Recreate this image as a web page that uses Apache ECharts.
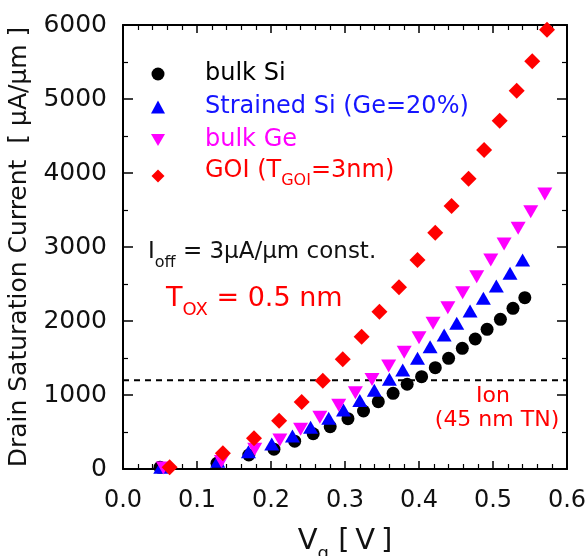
<!DOCTYPE html>
<html><head><meta charset="utf-8">
<script src="https://cdn.jsdelivr.net/npm/echarts@6/dist/echarts.min.js"></script>
<style>html,body{margin:0;padding:0;background:#fff}#c{width:588px;height:556px}</style>
</head><body><div id="c"></div>
<script>
// Gate voltage (V) and drain saturation current (uA/um)
const bulkSiVg = [0.050,0.127,0.170,0.204,0.232,0.257,0.280,0.304,0.325,0.345,0.365,0.384,0.4035,0.422,0.440,0.4585,0.476,0.492,0.510,0.527,0.543];
const bulkSiId = [23,77,189,268,376,476,572,680,784,910,1023,1145,1248,1369,1495,1631,1757,1888,2023,2171,2315];
const strainedVg = [0.051,0.128,0.1695,0.201,0.229,0.2535,0.278,0.298,0.320,0.3396,0.360,0.378,0.398,0.415,0.434,0.451,0.469,0.487,0.5045,0.523,0.540];
const strainedId = [23,105,234,338,446,563,685,797,925,1063,1212,1338,1495,1653,1811,1969,2135,2307,2473,2645,2824];
const bulkGeVg = [0.0545,0.133,0.178,0.212,0.240,0.266,0.2915,0.314,0.3365,0.359,0.380,0.400,0.419,0.439,0.459,0.478,0.497,0.515,0.534,0.551,0.570];
const bulkGeId = [15,100,266,392,536,698,862,1031,1208,1392,1577,1774,1969,2180,2383,2599,2824,3041,3252,3477,3716];
const goiVg = [0.063,0.135,0.177,0.211,0.2415,0.270,0.297,0.3225,0.3465,0.373,0.398,0.422,0.444,0.467,0.488,0.509,0.532,0.553,0.573];
const goiId = [23,212,415,653,905,1194,1482,1788,2126,2455,2824,3193,3554,3921,4311,4707,5112,5509,5937];
const ionLevel = 1200;
const seriesNames = ['bulk Si','Strained Si (Ge=20%)','bulk Ge','GOI (T_GOI=3nm)'];
const xRange = [0, 0.6];
const yRange = [0, 6000];

const FONT = 'DejaVu Sans';
const pair = (xs, ys) => xs.map((v, i) => [v, ys[i]]);

const chart = echarts.init(document.getElementById('c'), null, {renderer: 'canvas'});

const axisLineStyle = {show: true, onZero: false, lineStyle: {color: '#000', width: 2}};
const xTick = {show: true, inside: true, length: 8, lineStyle: {color: '#000', width: 1.5}};
const xMinor = {show: true, splitNumber: 5, length: 5, lineStyle: {color: '#000', width: 1.2}};
const yTick = {show: true, inside: true, length: 10, lineStyle: {color: '#000', width: 1.5}};
const yMinor = {show: true, splitNumber: 2, length: 5, lineStyle: {color: '#000', width: 1.2}};

const option = {
  backgroundColor: '#fff',
  animation: false,
  grid: {left: 123, right: 21, top: 25, bottom: 87, containLabel: false, outerBoundsMode: 'none'},
  xAxis: [
    {
      type: 'value', min: xRange[0], max: xRange[1], interval: 0.1, position: 'bottom',
      axisLine: axisLineStyle, axisTick: xTick, minorTick: xMinor,
      splitLine: {show: false}, minorSplitLine: {show: false},
      axisLabel: {margin: 20, fontFamily: FONT, fontSize: 24, color: '#111', formatter: v => v.toFixed(1)},
      name: '{v|V}{s|g}{v| [\u2009V\u2009]}', nameLocation: 'middle', nameGap: 64,
      nameTextStyle: {fontFamily: FONT, color: '#111', rich: {
        v: {fontFamily: FONT, fontSize: 29, color: '#111', verticalAlign: 'bottom', lineHeight: 30, padding: [0,0,7,0]},
        s: {fontFamily: FONT, fontSize: 18, color: '#111', verticalAlign: 'bottom', lineHeight: 18}
      }}
    },
    {
      type: 'value', min: xRange[0], max: xRange[1], interval: 0.1, position: 'top',
      axisLine: axisLineStyle, axisTick: xTick, minorTick: xMinor,
      splitLine: {show: false}, minorSplitLine: {show: false},
      axisLabel: {show: false}
    }
  ],
  yAxis: [
    {
      type: 'value', min: yRange[0], max: yRange[1], interval: 1000, position: 'left',
      axisLine: axisLineStyle, axisTick: yTick, minorTick: yMinor,
      splitLine: {show: false}, minorSplitLine: {show: false},
      axisLabel: {margin: 16, fontFamily: FONT, fontSize: 25, color: '#111', formatter: v => String(v)},
      name: 'Drain Saturation Current  [ \u03bcA/\u03bcm ]', nameLocation: 'middle', nameGap: 85,
      nameTextStyle: {fontFamily: FONT, fontSize: 25, color: '#111'}
    },
    {
      type: 'value', min: yRange[0], max: yRange[1], interval: 1000, position: 'right',
      axisLine: axisLineStyle, axisTick: yTick, minorTick: yMinor,
      splitLine: {show: false}, minorSplitLine: {show: false},
      axisLabel: {show: false}
    }
  ],
  legend: {
    orient: 'vertical', left: 146, top: 55, itemWidth: 14, itemHeight: 13, itemGap: 5,
    data: [
      {name: seriesNames[0], textStyle: {color: '#000'}},
      {name: seriesNames[1], textStyle: {color: '#1515ff'}},
      {name: seriesNames[2], textStyle: {color: '#ff00ff'}, icon: 'path://M0,0 L14,0 L7,12 Z'},
      {name: seriesNames[3], textStyle: {color: '#ff0000'}, icon: 'path://M7,0 L14,7 L7,14 L0,7 Z'}
    ],
    textStyle: {fontFamily: FONT, fontSize: 24, lineHeight: 28, padding: [0,0,0,35],
      rich: {
        r: {fontFamily: FONT, fontSize: 24, color: '#ff0000', verticalAlign: 'bottom', lineHeight: 26, padding: [0,0,6,0]},
        rs: {fontFamily: FONT, fontSize: 16, color: '#ff0000', verticalAlign: 'bottom', lineHeight: 16}
      }},
    formatter: name => name === seriesNames[3] ? '{r|GOI (T}{rs|GOI}{r|=3nm)}' : name
  },
  graphic: [
    {type: 'text', left: 148, top: 241, z: 100, style: {
      text: '{m|I}{s|off}{m| = 3\u03bcA/\u03bcm const.}', fill: '#111',
      rich: {
        m: {fontFamily: FONT, fontSize: 23, fill: '#111', color: '#111', verticalAlign: 'bottom', lineHeight: 26, padding: [0,0,7,0]},
        s: {fontFamily: FONT, fontSize: 16, fill: '#111', color: '#111', verticalAlign: 'bottom', lineHeight: 16}
      }}},
    {type: 'text', left: 166, top: 285, z: 100, style: {
      text: '{m|T}{s|OX}{m| = 0.5 nm}', fill: '#ff0000',
      rich: {
        m: {fontFamily: FONT, fontSize: 27, fill: '#ff0000', color: '#ff0000', verticalAlign: 'bottom', lineHeight: 30, padding: [0,0,7,0]},
        s: {fontFamily: FONT, fontSize: 18, fill: '#ff0000', color: '#ff0000', verticalAlign: 'bottom', lineHeight: 18}
      }}},
    {type: 'text', x: 493, y: 396, z: 100, style: {
      text: 'Ion', fill: '#ff0000', fontFamily: FONT, fontSize: 22, align: 'center', verticalAlign: 'middle'}},
    {type: 'text', x: 497, y: 420, z: 100, style: {
      text: '(45 nm TN)', fill: '#ff0000', fontFamily: FONT, fontSize: 22, align: 'center', verticalAlign: 'middle'}}
  ],
  series: [
    {name: 'Ion line', type: 'line', xAxisIndex: 0, yAxisIndex: 0, symbol: 'none', silent: true,
      data: [[xRange[0], ionLevel], [xRange[1], ionLevel]],
      lineStyle: {color: '#000', width: 2, type: [6, 5]}, z: 1},
    {name: seriesNames[0], type: 'scatter', symbol: 'circle', symbolSize: 13,
      itemStyle: {color: '#000', opacity: 1}, data: pair(bulkSiVg, bulkSiId), z: 2},
    {name: seriesNames[1], type: 'scatter', symbol: 'triangle', symbolSize: [15, 13],
      itemStyle: {color: '#0000ff', opacity: 1}, data: pair(strainedVg, strainedId), z: 3},
    {name: seriesNames[2], type: 'scatter', symbol: 'triangle', symbolRotate: 180, symbolSize: [15, 13],
      itemStyle: {color: '#ff00ff', opacity: 1}, data: pair(bulkGeVg, bulkGeId), z: 4},
    {name: seriesNames[3], type: 'scatter', symbol: 'diamond', symbolSize: 16,
      itemStyle: {color: '#ff0000', opacity: 1}, data: pair(goiVg, goiId), z: 5}
  ]
};
chart.setOption(option);
</script>
</body></html>
